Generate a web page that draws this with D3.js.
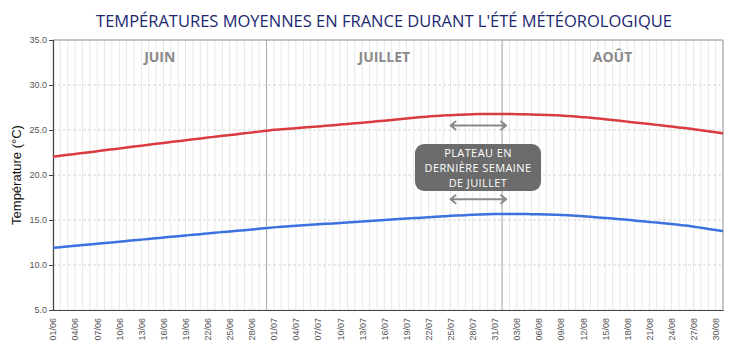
<!DOCTYPE html>
<html>
<head>
<meta charset="utf-8">
<script src="https://cdn.jsdelivr.net/npm/d3@7"></script>
<style>
  body { margin: 0; background: #fff; }
  svg { display: block; }
</style>
</head>
<body>
<div id="chart"></div>
<script>
/**
 * DATA
 * */
const title = "TEMPÉRATURES MOYENNES EN FRANCE DURANT L'ÉTÉ MÉTÉOROLOGIQUE";

// one category per day, 01/06 -> 31/08
const days = d3.timeDay.range(new Date(2021, 5, 1), new Date(2021, 8, 1)).map(d3.timeFormat("%d/%m"));

// daily max temperature (°C)
const tMax = [
  22.03, 22.13, 22.24, 22.34, 22.44, 22.54, 22.65, 22.75, 22.85, 22.95,
  23.06, 23.16, 23.26, 23.36, 23.46, 23.56, 23.66, 23.76, 23.86, 23.96,
  24.06, 24.16, 24.25, 24.35, 24.44, 24.54, 24.63, 24.73, 24.82, 24.92,
  25.02, 25.08, 25.14, 25.20, 25.27, 25.33, 25.40, 25.46, 25.53, 25.60,
  25.67, 25.74, 25.81, 25.89, 25.97, 26.04, 26.12, 26.20, 26.28, 26.36,
  26.44, 26.50, 26.56, 26.61, 26.65, 26.69, 26.72, 26.75, 26.77, 26.78,
  26.78, 26.78, 26.77, 26.76, 26.74, 26.72, 26.70, 26.67, 26.64, 26.60,
  26.56, 26.50, 26.43, 26.36, 26.28, 26.20, 26.11, 26.02, 25.93, 25.84,
  25.75, 25.66, 25.57, 25.48, 25.39, 25.29, 25.20, 25.09, 24.98, 24.87,
  24.75, 24.62
];

// daily min temperature (°C)
const tMin = [
  11.90, 11.98, 12.05, 12.13, 12.21, 12.28, 12.36, 12.44, 12.51, 12.59,
  12.67, 12.74, 12.82, 12.90, 12.97, 13.05, 13.13, 13.20, 13.28, 13.36,
  13.43, 13.51, 13.58, 13.66, 13.73, 13.80, 13.87, 13.94, 14.02, 14.10,
  14.18, 14.25, 14.31, 14.37, 14.42, 14.47, 14.52, 14.57, 14.62, 14.67,
  14.72, 14.78, 14.83, 14.89, 14.94, 15.00, 15.05, 15.11, 15.16, 15.21,
  15.26, 15.31, 15.36, 15.41, 15.46, 15.50, 15.54, 15.58, 15.61, 15.64,
  15.66, 15.67, 15.67, 15.67, 15.66, 15.65, 15.63, 15.61, 15.59, 15.56,
  15.52, 15.47, 15.41, 15.35, 15.29, 15.23, 15.16, 15.09, 15.02, 14.94,
  14.86, 14.79, 14.71, 14.63, 14.55, 14.47, 14.38, 14.26, 14.14, 14.01,
  13.89, 13.76
];

const yTicks = [5, 10, 15, 20, 25, 30, 35];
const months = [
  { name: "JUIN", first: "01/06", last: "30/06" },
  { name: "JUILLET", first: "01/07", last: "31/07" },
  { name: "AOÛT", first: "01/08", last: "31/08" }
];
const dividers = ["30/06", "01/08"];
const noteLines = ["PLATEAU EN", "DERNIÈRE SEMAINE", "DE JUILLET"];
const plateau = ["25/07", "01/08"];

/**
 * CONSTANTS
 * */
const width = 740, height = 362,
  margin = { top: 40, bottom: 52, left: 53, right: 17 };

const svg = d3.select("#chart").append("svg")
  .attr("width", width)
  .attr("height", height);

const x = d3.scalePoint()
  .domain(days)
  .range([margin.left, width - margin.right]);

const y = d3.scaleLinear()
  .domain([5, 35])
  .range([height - margin.bottom, margin.top]);

// title
svg.append("text")
  .attr("x", 384)
  .attr("y", 27)
  .attr("text-anchor", "middle")
  .style("font-family", "'Open Sans', sans-serif")
  .style("font-size", "16.5px")
  .style("fill", "#1c2870")
  .text(title);

// vertical daily grid
svg.append("g")
  .selectAll("line")
  .data(days)
  .join("line")
  .attr("x1", d => x(d)).attr("x2", d => x(d))
  .attr("y1", y(35)).attr("y2", y(5))
  .attr("stroke", "#e8e8e8")
  .attr("stroke-width", 1);

// horizontal grid
svg.append("g")
  .selectAll("line")
  .data(yTicks)
  .join("line")
  .attr("x1", margin.left).attr("x2", width - margin.right)
  .attr("y1", d => y(d)).attr("y2", d => y(d))
  .attr("stroke", "#d6d6d6")
  .attr("stroke-dasharray", "3,2");

// month dividers
svg.append("g")
  .selectAll("line")
  .data(dividers)
  .join("line")
  .attr("x1", d => x(d)).attr("x2", d => x(d))
  .attr("y1", y(35)).attr("y2", y(5))
  .attr("stroke", "#aaaaaa")
  .attr("stroke-width", 1);

// plot border (top + right)
svg.append("path")
  .attr("d", `M${margin.left},${y(35)}H${width - margin.right}V${y(5)}`)
  .attr("fill", "none")
  .attr("stroke", "#999");

// month names
svg.append("g")
  .selectAll("text")
  .data(months)
  .join("text")
  .attr("x", d => (x(d.first) + x(d.last)) / 2)
  .attr("y", 62)
  .attr("text-anchor", "middle")
  .style("font-family", "'Open Sans', sans-serif")
  .style("font-weight", "bold")
  .style("font-size", "14px")
  .style("fill", "#8a8a8a")
  .text(d => d.name);

// axes
const yAxis = svg.append("g")
  .attr("transform", `translate(${margin.left},0)`)
  .call(d3.axisLeft(y).tickValues(yTicks).tickFormat(d3.format(".1f")).tickSize(4).tickPadding(2));

const xAxis = svg.append("g")
  .attr("transform", `translate(0,${y(5)})`)
  .call(d3.axisBottom(x).tickValues(days.filter((d, i) => i % 3 === 0)).tickSize(0).tickPadding(0));

[yAxis, xAxis].forEach(a => {
  a.select(".domain").attr("stroke", "#444").attr("stroke-width", 1.2);
  a.selectAll(".tick line").attr("stroke", "#444");
  a.selectAll("text")
    .style("font-family", "'Liberation Sans', Arial, sans-serif")
    .style("font-size", "9px")
    .style("fill", "#555");
});

xAxis.selectAll("text")
  .attr("text-anchor", "end")
  .attr("dy", "0.32em")
  .attr("transform", "translate(0,8) rotate(-90)")
  .attr("y", 0)
  .attr("x", 0);

// y axis title
svg.append("text")
  .attr("transform", `translate(21,${(y(5) + y(35)) / 2}) rotate(-90)`)
  .attr("text-anchor", "middle")
  .style("font-family", "'Liberation Sans', Arial, sans-serif")
  .style("font-size", "13px")
  .style("fill", "#111")
  .text("Température (°C)");

// lines
const line = d3.line()
  .x((d, i) => x(days[i]))
  .y(d => y(d))
  .curve(d3.curveMonotoneX);

svg.append("path")
  .datum(tMax)
  .attr("d", line)
  .attr("fill", "none")
  .attr("stroke", "#d93b3e")
  .attr("stroke-width", 2.5);

svg.append("path")
  .datum(tMin)
  .attr("d", line)
  .attr("fill", "none")
  .attr("stroke", "#3c72e0")
  .attr("stroke-width", 2.5);

// plateau arrows
const arrowY = [25.5, 17.3];
const ax0 = x(plateau[0]), ax1 = x(plateau[1]) + 4;
const arrows = svg.append("g")
  .attr("fill", "none")
  .attr("stroke", "#8a8a8a")
  .attr("stroke-width", 2)
  .attr("stroke-linecap", "round")
  .attr("stroke-linejoin", "round");
arrowY.forEach(v => {
  const yy = y(v);
  arrows.append("path")
    .attr("d", `M${ax0},${yy}H${ax1}M${ax0 + 5},${yy - 4}L${ax0},${yy}L${ax0 + 5},${yy + 4}M${ax1 - 5},${yy - 4}L${ax1},${yy}L${ax1 - 5},${yy + 4}`);
});

// note box
const boxX = 415, boxY = 144, boxW = 126, boxH = 47;
svg.append("rect")
  .attr("x", boxX).attr("y", boxY)
  .attr("width", boxW).attr("height", boxH)
  .attr("rx", 9)
  .attr("fill", "#6b6b6b");

svg.append("g")
  .selectAll("text")
  .data(noteLines)
  .join("text")
  .attr("x", boxX + boxW / 2)
  .attr("y", (d, i) => boxY + 12.5 + i * 15)
  .attr("text-anchor", "middle")
  .style("font-family", "'Open Sans', sans-serif")
  .style("font-size", "11px")
  .style("letter-spacing", "0.4px")
  .style("fill", "#fff")
  .text(d => d);
</script>
</body>
</html>
